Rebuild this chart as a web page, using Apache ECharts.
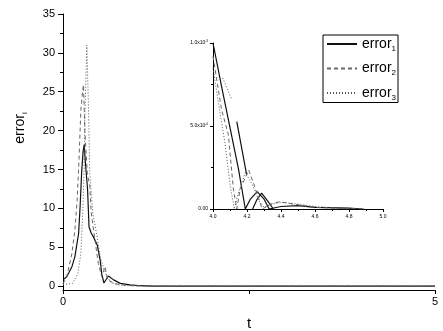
<!DOCTYPE html>
<html>
<head>
<meta charset="utf-8">
<script src="https://cdn.jsdelivr.net/npm/echarts@6/dist/echarts.min.js"></script>
<style>
  html, body { margin: 0; padding: 0; background: #fff; }
  #chart { width: 443px; height: 331px; }
</style>
</head>
<body>
<div id="chart"></div>
<script>
// main plot, t in [0, 5]
const t1 = [0, 0.05, 0.12, 0.16, 0.21, 0.23, 0.25, 0.27, 0.285, 0.30, 0.33, 0.35, 0.38, 0.41, 0.46, 0.50, 0.52, 0.55, 0.61, 0.68, 0.77, 0.9, 1.05, 1.2, 1.5, 5];
const e1 = [0.8, 1.2, 2.5, 3.8, 6.8, 10.2, 14.5, 17.3, 18.2, 16.0, 12.5, 7.6, 6.8, 6.3, 5.3, 3.3, 1.6, 0.4, 1.3, 0.8, 0.35, 0.15, 0.05, 0.01, 0, 0];
const t2 = [0, 0.05, 0.12, 0.16, 0.19, 0.215, 0.24, 0.265, 0.275, 0.295, 0.327, 0.36, 0.38, 0.43, 0.475, 0.52, 0.565, 0.6, 0.7, 0.85, 1.0, 1.3, 5];
const e2 = [0.3, 1.2, 4.2, 7.2, 11, 16.2, 22.6, 25.2, 25.9, 19.7, 14.5, 12.8, 9.4, 5.9, 2.9, 1.2, 2.5, 0.8, 0.3, 0.1, 0.03, 0, 0];
const t3 = [0, 0.13, 0.2, 0.24, 0.265, 0.285, 0.295, 0.32, 0.34, 0.36, 0.4, 0.45, 0.5, 0.54, 0.59, 0.655, 0.75, 0.9, 1.1, 5];
const e3 = [0.2, 0.35, 1.6, 4.2, 9.4, 15.3, 22.3, 31, 24, 14.5, 9.4, 6.8, 3.8, 2.5, 1.2, 0.4, 0.15, 0.05, 0, 0];

// inset, t in [4, 5], values in units of 1e-3 (null = break in the line)
const it1 = [4.0, 4.05, 4.10, 4.15, 4.19, 4.22, 4.26, 4.30, 4.33, 4.40, 4.5, 4.6, 4.8, 4.88, null, 4.14, 4.198, null, 4.233, 4.26, 4.286, 4.32, 4.355];
const ie1 = [1.0, 0.74, 0.49, 0.24, 0, 0.06, 0.105, 0.06, 0, 0.015, 0.02, 0.01, 0.005, 0, null, 0.527, 0.205, null, 0, 0.06, 0.095, 0.05, 0];
const it2 = [4.0, 4.05, 4.09, 4.12, 4.14, 4.16, 4.21, 4.24, 4.29, 4.34, 4.39, 4.5, 4.6, 4.75, 4.9];
const ie2 = [0.92, 0.6, 0.45, 0.12, 0, 0.12, 0.235, 0.15, 0, 0.03, 0.044, 0.025, 0.01, 0.004, 0];
const it3 = [4.0, 4.03, 4.07, 4.10, 4.125, 4.15, 4.19, 4.23, 4.27, 4.3, 4.35, 4.4, 4.5, 4.6, 4.75, 4.9, null, 4.057, 4.11];
const ie3 = [0.85, 0.65, 0.4, 0.15, 0, 0.1, 0.22, 0.15, 0.05, 0.01, 0.03, 0.04, 0.03, 0.015, 0.005, 0, null, 0.79, 0.66];

const mainYLabels = [0, 5, 10, 15, 20, 25, 30, 35];
const mainYMinor = [2.5, 7.5, 12.5, 17.5, 22.5, 27.5, 32.5];
const seriesNames = ['error1', 'error2', 'error3'];

const font = 'Liberation Sans, Arial, sans-serif';
const zip = (xs, ys) => xs.map((x, i) => (x === null ? [null, null] : [x, ys[i]]));
const sub = { fontSize: 8, fontFamily: font, color: '#000', padding: [9, 0, 0, 0] };

const styles = [
  { color: '#111', width: 1.2, type: 'solid' },
  { color: '#666', width: 1, type: [4, 3] },
  { color: '#555', width: 1, type: [1, 2] }
];

function line(name, data, idx, axis) {
  const s = styles[idx];
  return {
    name: name,
    type: 'line',
    data: data,
    xAxisIndex: axis,
    yAxisIndex: axis === 0 ? 0 : 2,
    symbol: 'none',
    connectNulls: false,
    animation: false,
    lineStyle: { color: s.color, width: s.width, type: s.type },
    itemStyle: { color: s.color }
  };
}

const chart = echarts.init(document.getElementById('chart'));
chart.setOption({
  backgroundColor: '#fff',
  textStyle: { fontFamily: font },
  grid: [
    { left: 63, right: 8, top: 14, bottom: 41, outerBoundsMode: 'none' },
    { left: 213, top: 43, width: 170, height: 166, outerBoundsMode: 'none' }
  ],
  legend: {
    orient: 'vertical',
    left: 323,
    top: 35,
    itemWidth: 30,
    itemHeight: 14,
    itemGap: 9,
    padding: [2, 2, 1, 3],
    borderColor: '#000',
    borderWidth: 1,
    itemStyle: { opacity: 0 },
    data: seriesNames,
    formatter: n => 'error{s|' + n.slice(5) + '}',
    textStyle: { fontSize: 14, color: '#000', fontFamily: font, rich: { s: sub } }
  },
  xAxis: [
    {
      type: 'value', gridIndex: 0, min: 0, max: 5, interval: 2.5,
      name: 't', nameLocation: 'middle', nameGap: 26,
      nameTextStyle: { fontSize: 15, color: '#000', fontFamily: font },
      axisLine: { onZero: false, lineStyle: { color: '#000', width: 1 } },
      axisTick: { length: 4, lineStyle: { color: '#000' } },
      axisLabel: { fontSize: 11, color: '#000', margin: 6, formatter: v => (v === 2.5 ? '' : String(v)) },
      splitLine: { show: false }
    },
    {
      type: 'value', gridIndex: 1, min: 4, max: 5, interval: 0.2,
      axisLine: { onZero: false, lineStyle: { color: '#000', width: 1 } },
      axisTick: { length: 3, lineStyle: { color: '#000' } },
      minorTick: { show: true, splitNumber: 2, length: 2, lineStyle: { color: '#000' } },
      axisLabel: { fontSize: 5, color: '#000', margin: 5, formatter: v => v.toFixed(1) },
      splitLine: { show: false }
    }
  ],
  yAxis: [
    {
      type: 'value', gridIndex: 0, min: -0.5, max: 35,
      axisLine: { lineStyle: { color: '#000', width: 1 } },
      axisTick: { length: 5, customValues: mainYLabels, lineStyle: { color: '#000' } },
      axisLabel: { fontSize: 11, color: '#000', margin: 8, customValues: mainYLabels },
      splitLine: { show: false }
    },
    {
      type: 'value', gridIndex: 0, min: -0.5, max: 35, position: 'left',
      axisLine: { show: false },
      axisTick: { length: 3, customValues: mainYMinor, lineStyle: { color: '#000' } },
      axisLabel: { show: false },
      splitLine: { show: false }
    },
    {
      type: 'value', gridIndex: 1, min: 0, max: 1, interval: 0.5,
      axisLine: { lineStyle: { color: '#000', width: 1 } },
      axisTick: { length: 3, lineStyle: { color: '#000' } },
      minorTick: { show: true, splitNumber: 2, length: 2, lineStyle: { color: '#000' } },
      axisLabel: {
        fontSize: 5, color: '#000', margin: 5,
        formatter: v => (v === 0 ? '0.00' : v === 0.5 ? '5.0x10{p|-4}' : '1.0x10{p|-3}'),
        rich: { p: { fontSize: 3, color: '#000', padding: [0, 0, 4, 0] } }
      },
      splitLine: { show: false }
    }
  ],
  graphic: [
    {
      type: 'text', x: 20, y: 128, rotation: Math.PI / 2,
      style: {
        text: 'error{s|i}', fontSize: 14, fill: '#000', fontFamily: font,
        textAlign: 'center', textVerticalAlign: 'middle',
        rich: { s: { fontSize: 8, fill: '#000', fontFamily: font, padding: [9, 0, 0, 0] } }
      }
    }
  ],
  series: [
    line(seriesNames[0], zip(t1, e1), 0, 0),
    line(seriesNames[1], zip(t2, e2), 1, 0),
    line(seriesNames[2], zip(t3, e3), 2, 0),
    line(seriesNames[0], zip(it1, ie1), 0, 1),
    line(seriesNames[1], zip(it2, ie2), 1, 1),
    line(seriesNames[2], zip(it3, ie3), 2, 1)
  ]
});
</script>
</body>
</html>
